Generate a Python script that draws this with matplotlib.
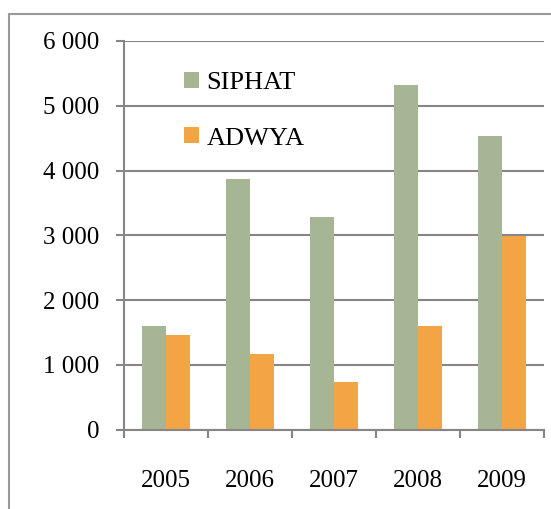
import numpy as np
import matplotlib.pyplot as plt
from matplotlib.patches import Rectangle
from matplotlib.ticker import FuncFormatter

years = ['2005', '2006', '2007', '2008', '2009']
siphat = [1600, 3870, 3290, 5320, 4540]
adwya = [1460, 1170, 740, 1600, 2990]

green = '#a6b593'
orange = '#f3a546'
grey = '#868686'

plt.rcParams['font.family'] = ['Liberation Serif', 'DejaVu Serif']

fig = plt.figure(figsize=(5.51, 5.09), dpi=100)
ax = fig.add_axes([124/551, 1 - 429.75/509, 420/551, 388.75/509])

# outer chart frame, cropped by the image edge
fig.patches.append(Rectangle((9/551, -0.2), 1.2, 0.2 + 1 - 13.5/509, transform=fig.transFigure,
                             fill=False, edgecolor='#9a9a9a', linewidth=1.5, clip_on=False))

x = np.arange(len(years))
w = 24/84
ax.bar(x - w/2, siphat, w, color=green, label='SIPHAT', zorder=2)
ax.bar(x + w/2, adwya, w, color=orange, label='ADWYA', zorder=2)

ax.set_xlim(-0.5, len(years) - 0.5)
ax.set_ylim(0, 6000)
ax.set_yticks(np.arange(0, 6001, 1000))
ax.yaxis.set_major_formatter(FuncFormatter(lambda v, p: f'{int(v):,}'.replace(',', ' ')))
ax.yaxis.grid(True, color=grey, linewidth=1.5)
ax.set_axisbelow(True)

ax.set_xticks(np.arange(-0.5, len(years)), labels=[''] * (len(years) + 1))
ax.set_xticks(x, labels=years, minor=True)
ax.tick_params(axis='x', which='major', length=6, width=1.5, color=grey)
ax.tick_params(axis='x', which='minor', length=0, pad=29, labelsize=18)
ax.tick_params(axis='y', length=6, width=1.5, color=grey, pad=12, labelsize=18)

for s in ['top', 'right']:
    ax.spines[s].set_visible(False)
for s in ['left', 'bottom']:
    ax.spines[s].set_color(grey)
    ax.spines[s].set_linewidth(1.5)

ax.legend(loc='upper left', bbox_to_anchor=(0.143, 0.92), frameon=False, fontsize=19,
          handlelength=0.55, handleheight=0.55, handletextpad=0.3, labelspacing=1.25,
          borderpad=0, borderaxespad=0)

fig.savefig('out.png', dpi=100)
